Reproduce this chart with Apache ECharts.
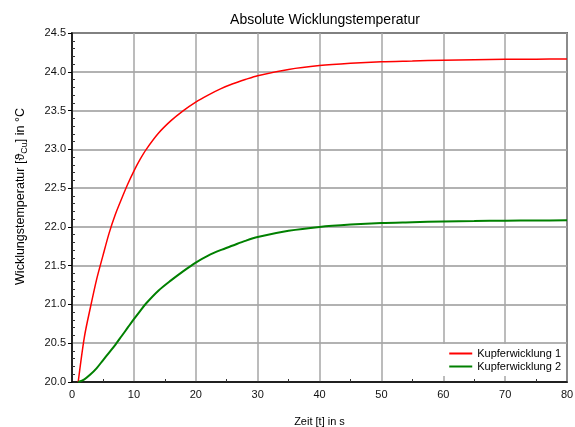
<!DOCTYPE html>
<html>
<head>
<meta charset="utf-8">
<script src="https://cdn.jsdelivr.net/npm/echarts@6/dist/echarts.min.js"></script>
<style>
html,body{margin:0;padding:0;background:#fff;}
#chart{width:575px;height:427px;}
</style>
</head>
<body>
<div id="chart"></div>
<script>
var titleText = 'Absolute Wicklungstemperatur';
var xName = 'Zeit [t] in s';
var seriesNames = ['Kupferwicklung 1', 'Kupferwicklung 2'];
var times = [1, 2, 3, 4, 5, 6, 7, 8, 9, 10, 11, 12, 14, 16, 18, 20, 22, 24, 26, 28, 30, 35, 40, 45, 50, 55, 60, 65, 70, 75, 80];
var kupfer1 = [20.0, 20.58, 20.97, 21.33, 21.63, 21.92, 22.16, 22.36, 22.55, 22.72, 22.87, 23.0, 23.21, 23.37, 23.5, 23.61, 23.7, 23.78, 23.845, 23.9, 23.95, 24.03, 24.08, 24.11, 24.13, 24.14, 24.15, 24.155, 24.16, 24.163, 24.165];
var kupfer2 = [20.0, 20.035, 20.1, 20.18, 20.28, 20.38, 20.48, 20.59, 20.7, 20.81, 20.915, 21.015, 21.18, 21.31, 21.43, 21.54, 21.63, 21.7, 21.76, 21.82, 21.87, 21.95, 22.0, 22.03, 22.05, 22.06, 22.07, 22.075, 22.08, 22.083, 22.085];
var xMin = 0, xMax = 80, xInterval = 10;
var yMin = 20.0, yMax = 24.5, yInterval = 0.5;

function pairs(xs, ys) { return xs.map(function (x, i) { return [x, ys[i]]; }); }

var font = 'Liberation Sans, Arial, sans-serif';
var chart = echarts.init(document.getElementById('chart'));
chart.setOption({
  animation: false,
  backgroundColor: '#fff',
  textStyle: { fontFamily: font },
  title: {
    text: titleText, left: 320, textAlign: 'center', top: 8,
    textStyle: { fontFamily: font, fontSize: 14, fontWeight: 'normal', color: '#000' }
  },
  grid: {
    left: 72, right: 8, top: 33, bottom: 45, outerBoundsMode: 'none', containLabel: false,
    show: true, borderColor: '#000', borderWidth: 1.5, backgroundColor: '#fff'
  },
  legend: {
    data: seriesNames, orient: 'vertical', right: 10, bottom: 51,
    itemWidth: 23, itemHeight: 2, itemGap: 2,
    backgroundColor: '#fff', padding: [4, 4, 4, 8],
    textStyle: { fontFamily: font, fontSize: 11, color: '#000' },
    icon: 'rect'
  },
  xAxis: [{
    type: 'value', min: xMin, max: xMax, interval: xInterval,
    name: xName, nameLocation: 'middle', nameGap: 34,
    nameTextStyle: { fontFamily: font, fontSize: 11, color: '#000' },
    axisLine: { show: true, lineStyle: { color: '#000', width: 1.5 } },
    axisTick: { show: false, inside: true },
    minorTick: { show: true, splitNumber: 2, length: 3, lineStyle: { color: '#333', width: 1 } },
    axisLabel: { fontFamily: font, fontSize: 11, color: '#111', margin: 7 },
    splitLine: { show: true, lineStyle: { color: '#a6a6a6', width: 1.5 } }
  }],
  yAxis: [{
    type: 'value', min: yMin, max: yMax, interval: yInterval,
    name: '{a|Wicklungstemperatur [ϑ}{s|Cu}{a|] in °C}',
    nameLocation: 'middle', nameGap: 43, nameRotate: 90,
    nameTextStyle: {
      fontFamily: font, color: '#000', padding: [0, 0, 0, 22],
      rich: {
        a: { fontFamily: font, fontSize: 12.5, color: '#000', lineHeight: 17, verticalAlign: 'middle' },
        s: { fontFamily: font, fontSize: 9, color: '#000', lineHeight: 10, verticalAlign: 'bottom' }
      }
    },
    axisLine: { show: true, lineStyle: { color: '#000', width: 1.5 } },
    axisTick: { show: true, inside: false, length: 4, lineStyle: { color: '#000', width: 1 } },
    axisLabel: { fontFamily: font, fontSize: 11, color: '#111', margin: 6,
      formatter: function (v) { return v.toFixed(1); } },
    splitLine: { show: true, lineStyle: { color: '#999', width: 1.5 } }
  }, {
    type: 'value', min: yMin, max: yMax, interval: yInterval, position: 'left',
    axisLine: { show: false },
    axisTick: { show: false, inside: true },
    minorTick: { show: true, splitNumber: 5, length: 3, lineStyle: { color: '#333', width: 1 } },
    axisLabel: { show: false },
    splitLine: { show: false }
  }],
  series: [{
    name: seriesNames[0], type: 'line', smooth: 0.3, symbol: 'none',
    data: pairs(times, kupfer1),
    lineStyle: { color: '#ff0000', width: 1.5 }, itemStyle: { color: '#ff0000' }
  }, {
    name: seriesNames[1], type: 'line', smooth: 0.3, symbol: 'none',
    data: pairs(times, kupfer2),
    lineStyle: { color: '#008000', width: 2 }, itemStyle: { color: '#008000' }
  }]
});
</script>
</body>
</html>
